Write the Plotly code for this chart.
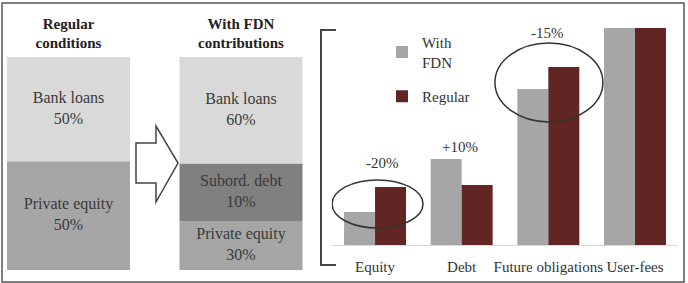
import plotly.graph_objects as go
import numpy as np

W, H = 688, 283

def px(x):
    return x / W

def py(y):
    return 1 - y / H

# ---------------- data ----------------
stacks = ["Regular conditions", "With FDN contributions"]
stack_titles = ["<b>Regular<br>conditions</b>", "<b>With FDN<br>contributions</b>"]

reg_parts = ["Private equity", "Bank loans"]
reg_shares = [50, 50]
reg_heights = [51, 49]          # drawn block heights (% of stack)

fdn_parts = ["Private equity", "Subord. debt", "Bank loans"]
fdn_shares = [30, 10, 60]
fdn_heights = [23, 27, 50]      # drawn block heights (% of stack)

categories = ["Equity", "Debt", "Future obligations", "User-fees"]
with_fdn = [15.2, 39.6, 71.9, 100]
regular = [26.7, 27.6, 82.0, 100]
changes = ["-20%", "+10%", "-15%", ""]

# ---------------- styles ----------------
part_colors = {"Private equity": "#a6a6a6", "Subord. debt": "#808080", "Bank loans": "#d9d9d9"}
GRAY = "#a6a6a6"
RED = "#632523"
TXT = "#333333"
FONT = "Liberation Serif, Times New Roman, Times, serif"

fig = go.Figure()

# ---------------- left: stacked blocks ----------------
stack_w = 0.713
text_x, text_y, text_s = [], [], []
for stack, parts, shares, heights in [
    (stacks[0], reg_parts, reg_shares, reg_heights),
    (stacks[1], fdn_parts, fdn_shares, fdn_heights),
]:
    bases = np.concatenate([[0], np.cumsum(heights)[:-1]])
    for part, share, h, b in zip(parts, shares, heights, bases):
        fig.add_trace(go.Bar(
            x=[stack], y=[h], base=[b], width=[stack_w],
            marker=dict(color=part_colors[part], line=dict(width=0)),
            xaxis="x", yaxis="y", showlegend=False, hoverinfo="skip",
        ))
        text_x.append(stack)
        text_y.append(b + h / 2)
        text_s.append(f"{part}<br>{share}%")

fig.add_trace(go.Scatter(
    x=text_x, y=text_y, text=text_s, mode="text",
    textfont=dict(family=FONT, size=16, color="#3a3a3a"),
    xaxis="x", yaxis="y", showlegend=False, hoverinfo="skip",
))

# ---------------- right: grouped bars ----------------
bw = 0.3576
fig.add_trace(go.Bar(
    x=categories, y=with_fdn, name="With<br>FDN", width=bw, offset=-bw,
    marker=dict(color=GRAY, line=dict(width=0)),
    xaxis="x2", yaxis="y2", legendgroup="a",
))
fig.add_trace(go.Bar(
    x=categories, y=regular, name="Regular", width=bw, offset=0,
    marker=dict(color=RED, line=dict(width=0)),
    xaxis="x2", yaxis="y2", legendgroup="b",
))

lifts = [24, 12, 34, 0]
xshifts = [7, -2, -1, 0]
annotations = []
for cat, g, r, ch, lift, xs in zip(categories, with_fdn, regular, changes, lifts, xshifts):
    if not ch:
        continue
    annotations.append(dict(
        x=cat, y=max(g, r), xref="x2", yref="y2", text=ch, showarrow=False,
        yshift=lift, xshift=xs, font=dict(family=FONT, size=15, color=TXT),
    ))

# ---------------- decorations ----------------
shapes = []
# outer frame
shapes.append(dict(type="rect", xref="paper", yref="paper",
                   x0=px(2), x1=px(684), y0=py(282), y1=py(3),
                   line=dict(color="#555555", width=1.5)))
# arrow
pts = [(136, 143), (156, 143), (156, 126), (178, 163), (156, 202), (156, 183), (136, 183)]
path = "M " + " L ".join(f"{px(a):.5f},{py(b):.5f}" for a, b in pts) + " Z"
shapes.append(dict(type="path", xref="paper", yref="paper", path=path,
                   fillcolor="white", line=dict(color="#444444", width=1.5)))
# bracket
bpts = [(336, 30), (321, 30), (321, 265), (336, 265)]
bpath = "M " + " L ".join(f"{px(a):.5f},{py(b):.5f}" for a, b in bpts)
shapes.append(dict(type="path", xref="paper", yref="paper", path=bpath,
                   line=dict(color="#444444", width=2)))
# ellipses
shapes.append(dict(type="circle", xref="x2", yref="y2",
                   x0=-0.496, x1=0.554, y0=7.8, y1=30.0,
                   line=dict(color="#333333", width=1.5)))
shapes.append(dict(type="circle", xref="x2", yref="y2",
                   x0=1.384, x1=2.630, y0=56.7, y1=93.1,
                   line=dict(color="#333333", width=1.5)))

fig.update_layout(
    width=W, height=H,
    margin=dict(l=0, r=0, t=0, b=0),
    paper_bgcolor="white", plot_bgcolor="white",
    barmode="overlay",
    font=dict(family=FONT, size=15, color=TXT),
    xaxis=dict(
        domain=[0, px(310)], type="category", categoryarray=stacks,
        range=[-68.5 / 172.5, (310 - 68.5) / 172.5],
        tickvals=stacks, ticktext=stack_titles, side="top",
        ticks="outside", ticklen=2, tickcolor="rgba(0,0,0,0)",
        tickfont=dict(family=FONT, size=15, color="#222222"),
        showgrid=False, zeroline=False, showline=False, fixedrange=True,
    ),
    yaxis=dict(
        domain=[py(270), py(57)], range=[0, 100],
        showticklabels=False, showgrid=False, zeroline=False, showline=False,
    ),
    xaxis2=dict(
        domain=[px(331.7), px(678.3)], anchor="y2", type="category",
        categoryarray=categories, range=[-0.5, 3.5],
        showline=True, linecolor="#d9d9d9", linewidth=1,
        ticks="outside", ticklen=8, tickcolor="rgba(0,0,0,0)",
        tickfont=dict(family=FONT, size=15, color=TXT),
        showgrid=False, zeroline=False,
    ),
    yaxis2=dict(
        domain=[py(245), py(28)], anchor="x2", range=[0, 100],
        showticklabels=False, showgrid=False, zeroline=False, showline=False,
    ),
    legend=dict(
        x=px(382), y=py(26), xanchor="left", yanchor="top",
        font=dict(family=FONT, size=15, color=TXT),
        bgcolor="rgba(0,0,0,0)", traceorder="grouped", tracegroupgap=12,
    ),
    showlegend=True,
    annotations=annotations,
    shapes=shapes,
)

fig.write_html("out.html")
